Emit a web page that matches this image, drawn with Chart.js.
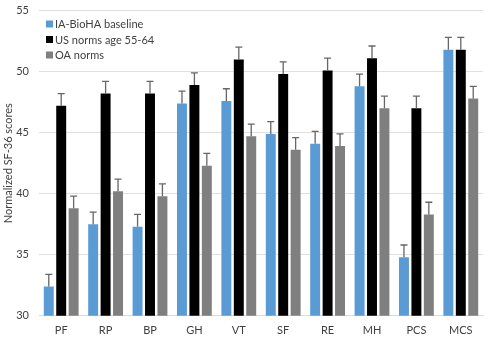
<!DOCTYPE html>
<html><head><meta charset="utf-8">
<script src="https://cdn.jsdelivr.net/npm/chart.js@4/dist/chart.umd.min.js"></script>
<style>html,body{margin:0;padding:0;background:#fff;overflow:hidden}#wrap{position:relative;top:-6px;width:500px;height:348px}</style>
</head><body><div id="wrap"><canvas id="c"></canvas></div>
<script>
const categories = ["PF","RP","BP","GH","VT","SF","RE","MH","PCS","MCS"];
const bioha = [32.4,37.5,37.3,47.4,47.6,44.9,44.1,48.8,34.8,51.8];
const usNorms = [47.2,48.2,48.2,48.9,51.0,49.8,50.1,51.1,47.0,51.8];
const oaNorms = [38.8,40.2,39.8,42.3,44.7,43.6,43.9,47.0,38.3,47.8];
const biohaErr = [1.0,1.0,1.0,1.0,1.0,1.0,1.0,1.0,1.0,1.0];
const usErr = [1.0,1.0,1.0,1.0,1.0,1.0,1.0,1.0,1.0,1.0];
const oaErr = [1.0,1.0,1.0,1.0,1.0,1.0,1.0,1.0,1.0,1.0];
const seriesLabels = ["IA-BioHA baseline","US norms age 55-64","OA norms"];
const yTicks = [30,35,40,45,50,55];

const FONT = "Lato, 'Open Sans', sans-serif";

const errorBars = {
  id:'errorBars',
  afterDatasetsDraw(chart){
    const ctx = chart.ctx, y = chart.scales.y;
    ctx.save();
    chart.data.datasets.forEach((ds,i)=>{
      const meta = chart.getDatasetMeta(i);
      meta.data.forEach((bar,j)=>{
        const v = ds.data[j], e = ds.errors[j];
        const yTop = y.getPixelForValue(v+e), yB = y.getPixelForValue(v);
        ctx.strokeStyle = '#666';
        ctx.lineWidth = 1.3;
        ctx.beginPath();
        ctx.moveTo(bar.x, yB); ctx.lineTo(bar.x, yTop);
        ctx.moveTo(bar.x-3.5, yTop); ctx.lineTo(bar.x+3.5, yTop);
        ctx.stroke();
      });
    });
    ctx.restore();
  }
};

const legendInside = {
  id:'legendInside',
  afterDraw(chart){
    const ctx = chart.ctx;
    ctx.save();
    ctx.font = "11px " + FONT;
    ctx.textBaseline = 'middle';
    chart.data.datasets.forEach((ds,i)=>{
      const cy = 30 + i*15.5;
      ctx.fillStyle = ds.backgroundColor;
      ctx.fillRect(46, cy-3.5, 7, 7);
      ctx.fillStyle = '#404040';
      ctx.fillText(ds.label, 55, cy+0.5);
    });
    ctx.restore();
  }
};

new Chart(document.getElementById('c'), {
  type:'bar',
  data:{
    labels: categories,
    datasets:[
      {label:seriesLabels[0], data:bioha, errors:biohaErr, backgroundColor:'#5B9BD5'},
      {label:seriesLabels[1], data:usNorms, errors:usErr, backgroundColor:'#000000'},
      {label:seriesLabels[2], data:oaNorms, errors:oaErr, backgroundColor:'#7F7F7F'}
    ]
  },
  options:{
    responsive:true, maintainAspectRatio:false, animation:false,
    layout:{padding:{top:0,right:17,left:2,bottom:-3}},
    datasets:{bar:{categoryPercentage:0.84, barPercentage:0.8}},
    plugins:{legend:{display:false}, tooltip:{enabled:false}},
    scales:{
      x:{
        grid:{display:false, drawTicks:false},
        border:{color:'#d9d9d9'},
        ticks:{color:'#404040', font:{family:FONT,size:11}, padding:8}
      },
      y:{
        min:30, max:55,
        afterBuildTicks(axis){ axis.ticks = yTicks.map(v=>({value:v})); },
        afterFit(axis){ axis.width = 37; },
        grid:{color:'#e0e0e0', drawTicks:false},
        border:{display:false},
        ticks:{color:'#404040', font:{family:FONT,size:11}, padding:10},
        title:{display:true, text:'Normalized SF-36 scores', color:'#404040', font:{family:FONT,size:11}, padding:{top:0,bottom:2}}
      }
    }
  },
  plugins:[errorBars, legendInside]
});
</script></body></html>
